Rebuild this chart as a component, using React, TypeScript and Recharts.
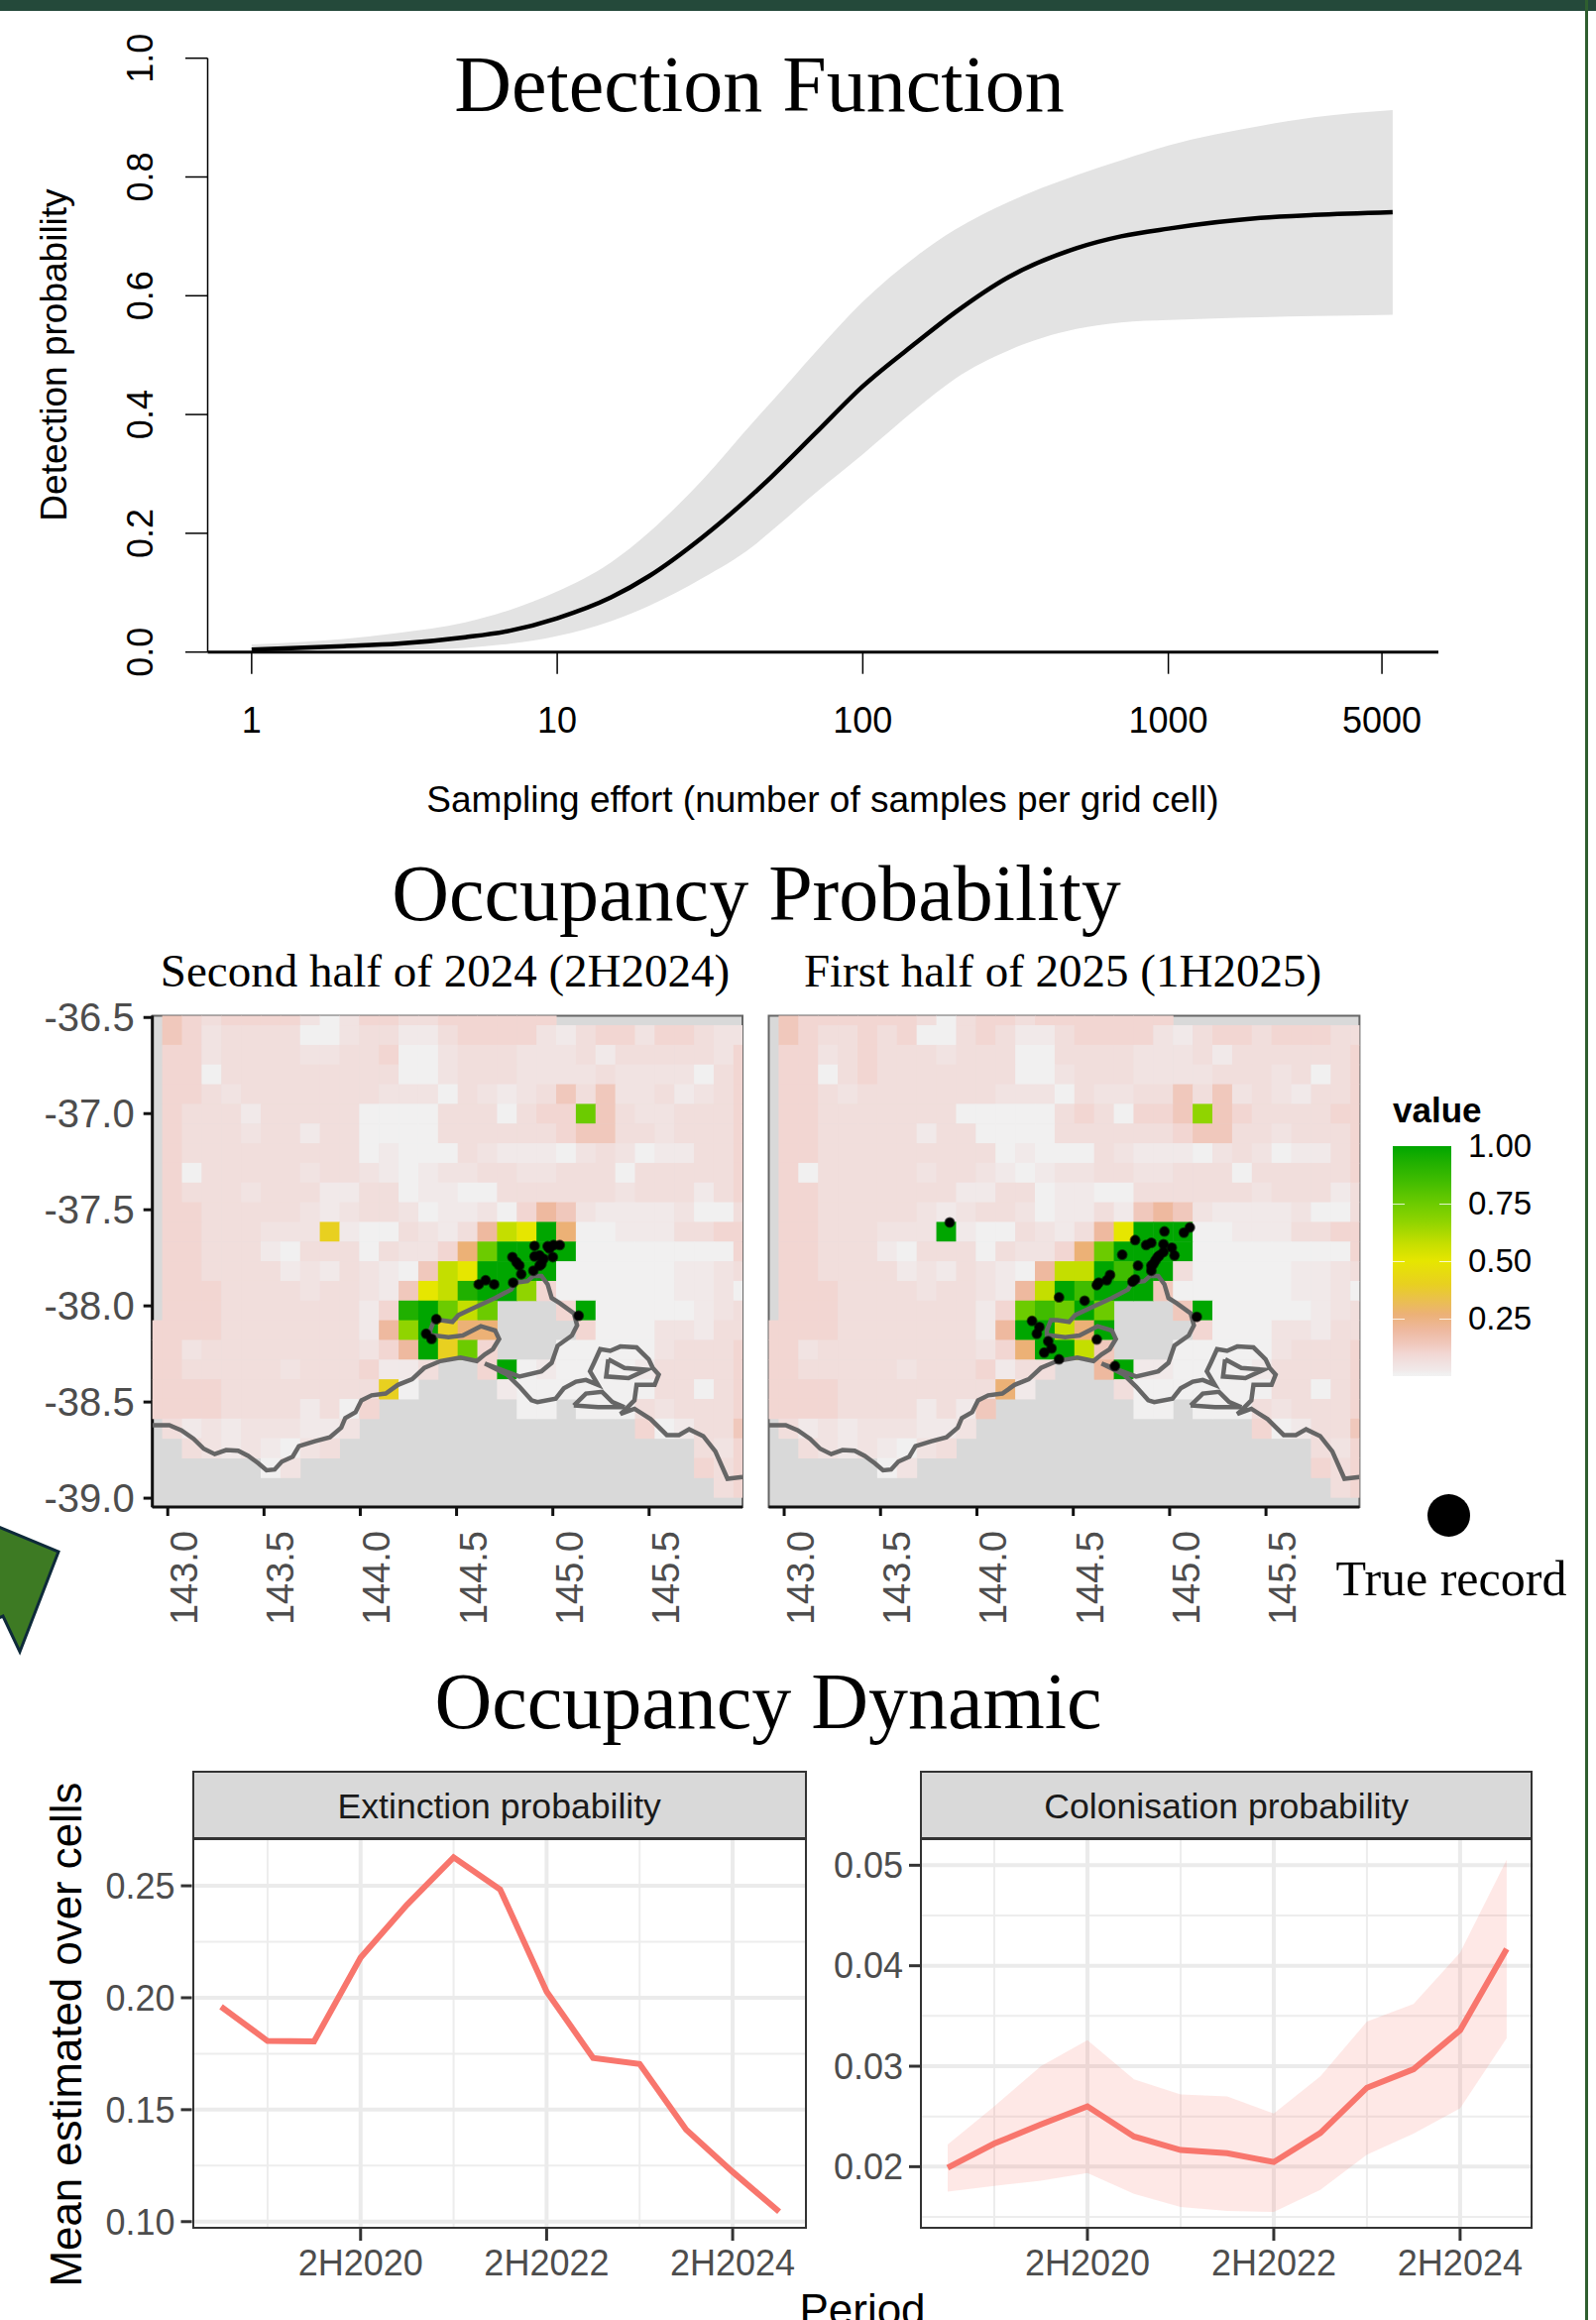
import {
  Area,
  CartesianGrid,
  ComposedChart,
  Line,
  ReferenceArea,
  Scatter,
  ScatterChart,
  XAxis,
  YAxis,
} from "recharts";

const SANS = "'Liberation Sans', Arial, sans-serif";
const SERIF = "'Liberation Serif', 'Times New Roman', serif";

/* detection function */
const effort = [1, 2, 3, 5, 7, 10, 15, 20, 30, 43.7, 50, 70, 100, 150, 200, 300, 500, 700, 1000, 2000, 3000, 5420];
const detectionMean = [0.004, 0.01, 0.014, 0.025, 0.036, 0.057, 0.092, 0.128, 0.194, 0.266, 0.294, 0.3685, 0.4475, 0.5215, 0.5715, 0.6315, 0.68, 0.7, 0.713, 0.731, 0.736, 0.7407];
const detectionLower = [0, 0.002, 0.0033, 0.007, 0.014, 0.027, 0.052, 0.078, 0.125, 0.178, 0.203, 0.268, 0.333, 0.41, 0.46, 0.508, 0.544, 0.555, 0.559, 0.5637, 0.5657, 0.568];
const detectionUpper = [0.013, 0.022, 0.032, 0.05, 0.071, 0.102, 0.151, 0.202, 0.291, 0.387, 0.42, 0.505, 0.59, 0.667, 0.711, 0.758, 0.803, 0.828, 0.853, 0.886, 0.9005, 0.9127];

/* occupancy map: one letter per grid cell, "." is no data */
const cellLevels: Record<string, number> = {
  a: 0.01, b: 0.025, c: 0.05, d: 0.07, e: 0.1, f: 0.14, g: 0.2, h: 0.27,
  i: 0.4, j: 0.5, k: 0.58, l: 0.67, m: 0.75, n: 0.85, o: 0.93, p: 1,
};

const tailRows = [
  ".dbcbcccbbc..............eabddf",
  "..dcbcbacd..................dce",
  "......ac....................ede",
  ".............................de",
];

const cells2H2024 = [
  ".fedeeeecaceeddeeeeee..........",
  ".fecddddaacddbbdeeeecbdeeceedcc",
  ".eecddddccddeaacdddcccdbdddddce",
  ".eeadddddddddaacdddccccdccccade",
  ".eedcdddddddcccadcbcdfdfccdbcde",
  ".edddbdddddaaaadddadeemfdccddde",
  ".edddcddbddaaaaddddddeffddcddde",
  ".edddddddddabaaadcbbbacdcabbdde",
  ".eadddddcddcbabccddccdddaddddde",
  ".edddcdddbbddabbaaddddddcdddbde",
  ".eedddddcbcddcabbcaegfcbbbbcaad",
  ".eedddcccibaadcbdgkjphaabbbddee",
  ".eedddbadddadccehmppppaaaaaaaae",
  ".eeddddbcbdcbafkjppppaaaaaabbcd",
  ".eeeddddcddcbfjkoppleaaaaaabbca",
  ".eeedddddddbeopmkm...epaaaaabcd",
  "eeeedddddddbglpihh....eaaaccbdd",
  "eecddddddddcegpime...aaaaacddde",
  "eedddddcdddebbd..epabaaaabdddde",
  "eeeeddddddddia....baaaaaaaddade",
  "eeeeddddbdae.......aa.aaadcddde",
  ...tailRows,
];

const cells1H2025 = [
  ".feeeeeedadeedeeeeeee..........",
  ".feddedeaadedbbdeeeecbdeedeeedd",
  ".eecdedddcdddaaddddcccdbdddddde",
  ".eeadedddddddaacdddccccdddcdade",
  ".eedcdddddddcccadccddfdfcdcbdde",
  ".eedddddddaaaaadedaeeflfeddddee",
  ".eedddddbddaaaaddddddeffddcddde",
  ".eedddddddddabaaadcbbbacdcabbde",
  ".eadddddcddcbabccddccdddaddddde",
  ".eedddddddbbddabbaaddddddcdddbd",
  ".eedddddcbcddcabbdbfgfcbbbbcaad",
  ".eedddcccpbaadcbdgjpppaabbbddee",
  ".eedddbadddadccehmppppaaaaaaaae",
  ".eeddddbcbdcbagkkpnppdaaaaabbcd",
  ".eeeddddcddcbgkpnpppfaaaaaabbca",
  ".eeedddddddbemnmpm...fpaaaaabcd",
  "eeeedddddddbgppkhp....eaaaccbdd",
  "eecddddddddcehppkf...aaaaacddde",
  "eedddddcdddebdd..gpbbaaaabdddde",
  "eeeeddddddddhb....daaaaaaaddade",
  "eeeeddddbdbf.......aa.aaadcddde",
  ...tailRows,
];

const firstCellLon = 142.92;
const firstCellLat = -36.489;
const cellDegrees = 0.1023;

/* coastline outline, lon / lat */
const mainCoast = [
  [142.92, -38.62], [143.008, -38.62], [143.071, -38.647], [143.134, -38.691], [143.187, -38.743], [143.244, -38.771],
  [143.303, -38.75], [143.366, -38.753], [143.418, -38.78], [143.471, -38.819], [143.513, -38.855], [143.555, -38.851],
  [143.592, -38.81], [143.649, -38.784], [143.681, -38.73], [143.765, -38.704], [143.842, -38.683], [143.901, -38.633],
  [143.922, -38.583], [143.975, -38.553], [144.006, -38.491], [144.059, -38.465], [144.132, -38.456], [144.195, -38.411],
  [144.269, -38.381], [144.332, -38.323], [144.416, -38.287], [144.521, -38.269], [144.605, -38.287], [144.647, -38.252],
  [144.689, -38.225], [144.721, -38.172], [144.7, -38.128], [144.626, -38.106], [144.532, -38.154], [144.458, -38.163],
  [144.363, -38.151], [144.363, -38.128], [144.384, -38.074], [144.416, -38.074], [144.479, -38.083], [144.51, -38.048],
  [144.605, -38.003], [144.7, -37.959], [144.784, -37.915], [144.805, -37.879], [144.868, -37.871], [144.899, -37.844],
  [144.941, -37.844], [144.973, -37.888], [144.994, -37.959], [145.036, -37.986], [145.109, -38.039], [145.126, -38.101],
  [145.099, -38.154], [145.025, -38.207], [144.994, -38.296], [144.941, -38.34], [144.826, -38.367], [144.647, -38.3],
  [144.763, -38.358], [144.826, -38.42], [144.889, -38.491], [144.92, -38.5], [145.015, -38.482], [145.057, -38.429],
  [145.12, -38.394], [145.172, -38.385], [145.235, -38.411], [145.193, -38.34], [145.214, -38.296], [145.246, -38.225],
  [145.298, -38.234], [145.351, -38.211], [145.435, -38.216], [145.498, -38.278], [145.519, -38.323], [145.55, -38.358],
  [145.529, -38.411], [145.435, -38.411], [145.424, -38.491], [145.372, -38.544], [145.351, -38.562], [145.424, -38.535],
  [145.508, -38.589], [145.592, -38.672], [145.655, -38.672], [145.708, -38.642], [145.781, -38.677], [145.844, -38.757],
  [145.907, -38.899], [145.985, -38.89],
];
const frenchIsland = [
  [145.288, -38.278], [145.372, -38.323], [145.487, -38.332], [145.393, -38.376], [145.277, -38.367], [145.288, -38.278],
];
const phillipIsland = [
  [145.109, -38.518], [145.172, -38.456], [145.256, -38.447], [145.309, -38.5], [145.372, -38.527], [145.235, -38.527], [145.109, -38.518],
];

/* true records */
const records2H2024 = [
  [144.905, -37.688], [144.983, -37.702], [145.004, -37.684], [145.036, -37.684], [144.973, -37.69], [145, -37.746],
  [144.79, -37.746], [144.811, -37.773], [144.826, -37.79], [144.905, -37.743], [144.931, -37.738], [144.952, -37.755],
  [144.941, -37.782], [144.931, -37.791], [144.836, -37.835], [144.794, -37.879], [144.899, -37.817], [144.615, -37.888],
  [144.651, -37.867], [144.695, -37.888], [145.134, -38.051], [144.395, -38.069], [144.342, -38.145], [144.37, -38.172],
];
const records1H2025 = [
  [143.859, -37.566], [144.973, -37.613], [145.074, -37.619], [145.105, -37.592], [144.821, -37.658], [144.878, -37.684],
  [144.905, -37.672], [144.968, -37.679], [145.011, -37.697], [145.025, -37.738], [144.754, -37.734], [144.836, -37.791],
  [144.968, -37.72], [144.947, -37.738], [144.926, -37.764], [144.905, -37.791], [144.905, -37.817], [144.821, -37.862],
  [144.807, -37.874], [144.691, -37.839], [144.674, -37.867], [144.632, -37.879], [144.622, -37.892], [144.426, -37.956],
  [144.559, -37.973], [144.286, -38.078], [144.324, -38.11], [144.311, -38.145], [144.37, -38.184], [144.387, -38.221],
  [144.349, -38.243], [144.622, -38.175], [144.426, -38.278], [144.716, -38.313], [145.141, -38.057], [144.937, -37.747], [144.916, -37.782],
];

const lonTicks = [143, 143.5, 144, 144.5, 145, 145.5];
const latTicks = [-36.5, -37, -37.5, -38, -38.5, -39];

/* occupancy dynamics */
const periods = ["1H2019", "2H2019", "1H2020", "2H2020", "1H2021", "2H2021", "1H2022", "2H2022", "1H2023", "2H2023", "1H2024", "2H2024", "1H2025"];
const periodTicks = ["2H2020", "2H2022", "2H2024"];
const periodMinor = ["2H2019", "2H2021", "2H2023"];
const extinction = [0.196, 0.1807, 0.1805, 0.2179, 0.2416, 0.2627, 0.2484, 0.2028, 0.1731, 0.1704, 0.1411, 0.1222, 0.1044];
const colonisation = [0.0199, 0.0223, 0.0242, 0.026, 0.023, 0.02166, 0.02134, 0.02046, 0.02335, 0.02786, 0.0297, 0.03357, 0.04168];
const colonisationLower = [0.01753, 0.0181, 0.0186, 0.01937, 0.0173, 0.016, 0.0156, 0.0155, 0.0177, 0.0212, 0.0233, 0.0258, 0.0328];
const colonisationUpper = [0.0222, 0.026, 0.03, 0.0326, 0.0287, 0.0272, 0.027, 0.0253, 0.029, 0.03445, 0.0362, 0.0413, 0.05056];

const COLOR_STOPS: [number, string][] = [
  [0, "#F2F2F2"], [0.01, "#F1F0F0"], [0.025, "#F1E9E9"], [0.05, "#F1E3E2"], [0.07, "#F1DEDC"], [0.1, "#F2D6D2"],
  [0.14, "#F0C8BC"], [0.2, "#EEB99F"], [0.27, "#ECB176"], [0.4, "#E8D020"], [0.5, "#E6E600"], [0.58, "#C4DE00"],
  [0.67, "#90D400"], [0.75, "#6CCB00"], [0.85, "#40BC00"], [0.93, "#20B000"], [1, "#00A600"],
];

function valueColor(value: number): string {
  const stop = COLOR_STOPS.find((s) => s[0] >= value);
  return stop ? stop[1] : "#00A600";
}

function rowsToCells(rows: string[]) {
  const out: { lon: number; lat: number; value: number }[] = [];
  rows.forEach((row, r) => {
    row.padEnd(31, row[row.length - 1]).split("").forEach((letter, c) => {
      if (letter === ".") return;
      out.push({
        lon: firstCellLon + c * cellDegrees,
        lat: firstCellLat - r * cellDegrees,
        value: cellLevels[letter],
      });
    });
  });
  return out;
}

const toPoints = (list: number[][]) => list.map(([lon, lat]) => ({ lon, lat }));

const LON_DOMAIN = [142.92, 145.985];
const LAT_DOMAIN = [-39.046, -36.491];

function Caption({ x, y, size, font = SERIF, rotate = 0, color = "#000", weight = 400, children }: any) {
  return (
    <div
      style={{
        position: "absolute",
        left: x,
        top: y,
        transform: `translate(-50%, -50%) rotate(${rotate}deg)`,
        fontFamily: font,
        fontSize: size,
        fontWeight: weight,
        color,
        whiteSpace: "nowrap",
        lineHeight: 1,
      }}
    >
      {children}
    </div>
  );
}

function DetectionChart() {
  const table = effort.map((e, i) => ({
    effort: e,
    mean: detectionMean[i],
    band: [detectionLower[i], detectionUpper[i]],
  }));
  return (
    <div style={{ position: "absolute", left: 0, top: 0 }}>
      <ComposedChart width={1610} height={860} data={table} margin={{ top: 58.7, right: 159, bottom: 102.3, left: 0 }}>
        <XAxis
          dataKey="effort"
          type="number"
          scale="log"
          domain={[0.718, 7650]}
          allowDataOverflow
          ticks={[1, 10, 100, 1000, 5000]}
          height={100}
          interval={0}
          tickSize={22}
          tickMargin={34}
          axisLine={{ stroke: "#000", strokeWidth: 3 }}
          tickLine={{ stroke: "#000", strokeWidth: 1.5 }}
          tick={{ fill: "#000", fontSize: 36, fontFamily: SANS }}
        />
        <YAxis
          type="number"
          domain={[0, 1]}
          ticks={[0, 0.2, 0.4, 0.6, 0.8, 1]}
          width={209.5}
          tickSize={22.5}
          tickMargin={0}
          axisLine={{ stroke: "#000", strokeWidth: 1.5 }}
          tickLine={{ stroke: "#000", strokeWidth: 1.5 }}
          tick={(p: any) => (
            <text
              transform={`rotate(-90 ${p.x - 33} ${p.y})`}
              x={p.x - 33}
              y={p.y}
              textAnchor="middle"
              fontSize={36}
              fontFamily={SANS}
              fill="#000"
            >
              {p.payload.value.toFixed(1)}
            </text>
          )}
        />
        <Area dataKey="band" type="monotone" fill="#E3E3E3" fillOpacity={1} stroke="none" isAnimationActive={false} />
        <Line dataKey="mean" type="monotone" stroke="#000" strokeWidth={4.5} dot={false} isAnimationActive={false} />
      </ComposedChart>
    </div>
  );
}

function OccupancyMap({ rows, records, left, width, marginLeft, marginRight, showLat }: any) {
  const plotW = width - marginLeft - marginRight;
  const cellW = (cellDegrees * plotW) / (LON_DOMAIN[1] - LON_DOMAIN[0]);
  const cellH = (cellDegrees * 495.5) / (LAT_DOMAIN[1] - LAT_DOMAIN[0]);
  return (
    <div style={{ position: "absolute", left, top: 1000 }}>
      <ScatterChart width={width} height={700} margin={{ top: 24.5, right: marginRight, bottom: 30, left: showLat ? 0 : marginLeft }}>
        <CartesianGrid fill="#D9D9D9" stroke="none" horizontal={false} vertical={false} />
        <XAxis
          dataKey="lon"
          type="number"
          domain={LON_DOMAIN}
          allowDataOverflow
          ticks={lonTicks}
          interval={0}
          height={150}
          tickSize={9}
          axisLine={{ stroke: "#111", strokeWidth: 3 }}
          tickLine={{ stroke: "#111", strokeWidth: 3 }}
          tick={(p: any) => (
            <text
              transform={`rotate(-90 ${p.x + 30} ${p.y + 13})`}
              x={p.x + 30}
              y={p.y + 13}
              textAnchor="end"
              fontSize={38}
              fontFamily={SANS}
              fill="#4D4D4D"
            >
              {p.payload.value.toFixed(1)}
            </text>
          )}
        />
        <YAxis
          dataKey="lat"
          type="number"
          domain={LAT_DOMAIN}
          allowDataOverflow
          ticks={latTicks}
          interval={0}
          hide={!showLat}
          width={showLat ? marginLeft : 0}
          tickSize={9}
          tickMargin={9}
          axisLine={{ stroke: "#111", strokeWidth: 3 }}
          tickLine={{ stroke: "#111", strokeWidth: 3 }}
          tick={{ fill: "#4D4D4D", fontSize: 40, fontFamily: SANS }}
          tickFormatter={(v: number) => v.toFixed(1)}
        />
        <Scatter
          data={rowsToCells(rows)}
          isAnimationActive={false}
          shape={(p: any) => (
            <rect
              x={p.cx - cellW / 2}
              y={p.cy - cellH / 2}
              width={cellW + 0.5}
              height={cellH + 0.5}
              fill={valueColor(p.payload.value)}
            />
          )}
        />
        <ReferenceArea
          x1={LON_DOMAIN[0]}
          x2={LON_DOMAIN[1]}
          y1={LAT_DOMAIN[0]}
          y2={LAT_DOMAIN[1]}
          fill="none"
          stroke="#666"
          strokeWidth={2}
        />
        {[mainCoast, frenchIsland, phillipIsland].map((segment, i) => (
          <Scatter
            key={i}
            data={toPoints(segment)}
            isAnimationActive={false}
            line={{ stroke: "#666", strokeWidth: 4.5 }}
            shape={() => <g />}
          />
        ))}
        <Scatter
          data={toPoints(records)}
          isAnimationActive={false}
          shape={(p: any) => <circle cx={p.cx} cy={p.cy} r={4.5} fill="#000" stroke="#000" strokeOpacity={0.6} strokeWidth={2} />}
        />
      </ScatterChart>
    </div>
  );
}

function FacetPanel({ title, values, lower, upper, left, yWidth, marginRight, domain, major, minor, xPad }: any) {
  const table = periods.map((period, i) => ({
    period,
    mean: values[i],
    band: lower ? [lower[i], upper[i]] : undefined,
  }));
  const plotLeft = left + yWidth;
  const plotRight = 1610 - marginRight;
  return (
    <>
      <div
        style={{
          position: "absolute",
          left: plotLeft,
          top: 1786,
          width: plotRight - plotLeft,
          height: 70,
          boxSizing: "border-box",
          background: "#D9D9D9",
          border: "2px solid #333",
          borderBottomWidth: 3,
          color: "#1A1A1A",
          fontFamily: SANS,
          fontSize: 35.6,
          lineHeight: "68px",
          textAlign: "center",
        }}
      >
        {title}
      </div>
      <div style={{ position: "absolute", left, top: 1840 }}>
        <ComposedChart width={1610 - left} height={500} data={table} margin={{ top: 16, right: marginRight, bottom: 22, left: 0 }}>
          <CartesianGrid stroke="#EDEDED" strokeWidth={2} horizontalValues={minor} verticalValues={periodMinor} />
          <CartesianGrid stroke="#EBEBEB" strokeWidth={4} horizontalValues={major} verticalValues={periodTicks} />
          <XAxis
            dataKey="period"
            scale="point"
            padding={xPad}
            ticks={periodTicks}
            height={70}
            tickSize={12}
            tickMargin={9}
            interval={0}
            axisLine={false}
            tickLine={{ stroke: "#333", strokeWidth: 3 }}
            tick={{ fill: "#4D4D4D", fontSize: 36, fontFamily: SANS }}
          />
          <YAxis
            type="number"
            domain={domain}
            allowDataOverflow
            ticks={major}
            width={yWidth}
            tickSize={11}
            tickMargin={6}
            axisLine={false}
            tickLine={{ stroke: "#333", strokeWidth: 3 }}
            tick={{ fill: "#4D4D4D", fontSize: 36, fontFamily: SANS }}
            tickFormatter={(v: number) => v.toFixed(2)}
          />
          {lower ? (
            <Area dataKey="band" type="linear" fill="#F8766D" fillOpacity={0.17} stroke="none" isAnimationActive={false} />
          ) : null}
          <Line dataKey="mean" type="linear" stroke="#F8766D" strokeWidth={6} dot={false} isAnimationActive={false} />
        </ComposedChart>
      </div>
      <div
        style={{
          position: "absolute",
          left: plotLeft,
          top: 1855,
          width: plotRight - plotLeft,
          height: 393,
          boxSizing: "border-box",
          border: "2px solid #333",
          borderTop: "none",
          pointerEvents: "none",
        }}
      />
    </>
  );
}

function Legend() {
  const gradient = [...COLOR_STOPS]
    .reverse()
    .map(([v, c]) => `${c} ${(1 - v) * 100}%`)
    .join(", ");
  return (
    <>
      <div style={{ position: "absolute", left: 1405, top: 1102, fontFamily: SANS, fontWeight: 700, fontSize: 35, lineHeight: 1 }}>value</div>
      <div style={{ position: "absolute", left: 1405, top: 1156, width: 59, height: 232, background: `linear-gradient(to bottom, ${gradient})` }}>
        {[0.25, 0.5, 0.75].map((v) => (
          <div key={v}>
            <div style={{ position: "absolute", left: 0, width: 12, height: 1, top: (1 - v) * 232, background: "#fff", opacity: 0.8 }} />
            <div style={{ position: "absolute", right: 0, width: 12, height: 1, top: (1 - v) * 232, background: "#fff", opacity: 0.8 }} />
          </div>
        ))}
      </div>
      {[1, 0.75, 0.5, 0.25].map((v) => (
        <div key={v} style={{ position: "absolute", left: 1481, top: 1156 + (1 - v) * 232 - 17, fontFamily: SANS, fontSize: 33, lineHeight: "34px" }}>
          {v.toFixed(2)}
        </div>
      ))}
      <div style={{ position: "absolute", left: 1440, top: 1507, width: 43, height: 43, borderRadius: "50%", background: "#000" }} />
    </>
  );
}

export default function App() {
  return (
    <div style={{ position: "absolute", left: 0, top: 0, width: 1610, height: 2340, overflow: "hidden", background: "#fff" }}>
      <div style={{ position: "absolute", left: 0, top: 0, width: 1610, height: 11, background: "#24493A" }} />
      <div style={{ position: "absolute", left: 1599, top: 0, width: 3, height: 2340, background: "#2F5F2F" }} />
      <svg style={{ position: "absolute", left: 0, top: 1530 }} width={70} height={150}>
        <polygon points="-4,9 59,35 20,136 3,100 -4,103" fill="#3D7A23" stroke="#0E2A3A" strokeWidth={3} />
      </svg>

      <DetectionChart />
      <Caption x={766} y={85} size={80}>Detection Function</Caption>
      <Caption x={54} y={358} size={37} font={SANS} rotate={-90}>Detection probability</Caption>
      <Caption x={830} y={806} size={37} font={SANS}>Sampling effort (number of samples per grid cell)</Caption>

      <Caption x={763} y={901} size={80}>Occupancy Probability</Caption>
      <Caption x={449} y={979} size={47}>Second half of 2024 (2H2024)</Caption>
      <Caption x={1072} y={979} size={47}>First half of 2025 (1H2025)</Caption>
      <OccupancyMap rows={cells2H2024} records={records2H2024} left={0} width={770} marginLeft={153.7} marginRight={21} showLat />
      <OccupancyMap rows={cells1H2025} records={records1H2025} left={760} width={630} marginLeft={15.5} marginRight={18.6} showLat={false} />
      <Legend />
      <Caption x={1464} y={1592} size={50}>True record</Caption>

      <Caption x={775} y={1716} size={80}>Occupancy Dynamic</Caption>
      <FacetPanel
        title="Extinction probability"
        values={extinction}
        left={60}
        yWidth={133.5}
        marginRight={796}
        domain={[0.0968, 0.2704]}
        major={[0.1, 0.15, 0.2, 0.25]}
        minor={[0.125, 0.175, 0.225]}
        xPad={{ left: 29.5, right: 28 }}
      />
      <FacetPanel
        title="Colonisation probability"
        values={colonisation}
        lower={colonisationLower}
        upper={colonisationUpper}
        left={820}
        yWidth={108}
        marginRight={63.6}
        domain={[0.01382, 0.0525]}
        major={[0.02, 0.03, 0.04, 0.05]}
        minor={[0.015, 0.025, 0.035, 0.045]}
        xPad={{ left: 28, right: 26.5 }}
      />
      <Caption x={67} y={2052} size={43.8} font={SANS} rotate={-90}>Mean estimated over cells</Caption>
      <Caption x={870} y={2330} size={44} font={SANS}>Period</Caption>
    </div>
  );
}
